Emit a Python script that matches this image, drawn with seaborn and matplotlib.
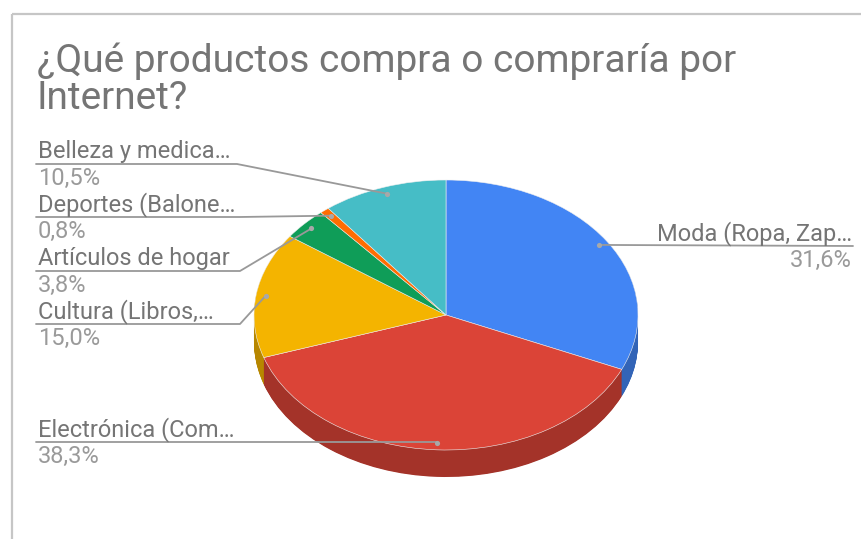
import numpy as np
import matplotlib
matplotlib.use("Agg")
import matplotlib.pyplot as plt
import seaborn as sns

# ---- data ----
categories = ["Moda (Ropa, Zap…", "Electrónica (Com…", "Cultura (Libros,…",
              "Artículos de hogar", "Deportes (Balone…", "Belleza y medica…"]
values = [31.6, 38.3, 15.0, 3.8, 0.8, 10.5]
top_colors = ["#4285F4", "#DB4437", "#F4B400", "#0F9D58", "#FF6D01", "#46BDC6"]
side_colors = ["#3264B7", "#A43329", "#B78700", "#0B7542", "#BF5201", "#348E94"]
title_lines = ["¿Qué productos compra o compraría por", "Internet?"]

# label layout (pixel positions)
label_side = ["right", "left", "left", "left", "left", "left"]
label_line_y = [246, 442, 324, 271, 217, 164]
label_elbow_x = [None, None, 240, 240, 240, 237]

sns.set_theme(style="white")
plt.rcParams["font.family"] = ["Roboto", "DejaVu Sans"]

W, H = 861, 539
fig = plt.figure(figsize=(W / 100, H / 100), dpi=100)
fig.patch.set_facecolor("white")

# pie axes: top face spans x 254..638, y 180..450 ; side depth to 477
px0, px1, py0, py1 = 254, 638, 180, 477
pa = fig.add_axes([px0 / W, 1 - py1 / H, (px1 - px0) / W, (py1 - py0) / H], zorder=1)
depth = 0.2
for t in np.linspace(depth, 0.004, 45):
    pa.pie(values, colors=side_colors, startangle=90, counterclock=False,
           center=(0, -t), radius=1, wedgeprops=dict(linewidth=0, antialiased=True))
wedges, _ = pa.pie(values, colors=top_colors, startangle=90, counterclock=False,
                   center=(0, 0), radius=1,
                   wedgeprops=dict(linewidth=0.4, edgecolor="#f0f0f0"))
pa.set_aspect("auto")
pa.set_xlim(-1, 1)
pa.set_ylim(-1 - depth, 1)
pa.axis("off")

# overlay axes in pixel coordinates
ov = fig.add_axes([0, 0, 1, 1], zorder=2)
ov.set_xlim(0, W)
ov.set_ylim(H, 0)
ov.axis("off")
ov.patch.set_alpha(0)

# card border (top and left)
ov.plot([11.5, W], [13.5, 13.5], color="#c6c6c6", lw=1.6, solid_capstyle="butt")
ov.plot([11.5, 11.5], [13.5, H], color="#c6c6c6", lw=1.6, solid_capstyle="butt")

# title
ov.text(37, 72, title_lines[0], fontsize=28, color="#757575", va="baseline", ha="left")
ov.text(37, 109, title_lines[1], fontsize=28, color="#757575", va="baseline", ha="left")

to_ov = pa.transData + ov.transData.inverted()
line_col = "#999999"
fs = 17
for w, cat, v, side, ly, ex in zip(wedges, categories, values, label_side,
                                    label_line_y, label_elbow_x):
    mid = np.deg2rad((w.theta1 + w.theta2) / 2)
    ax_, ay_ = to_ov.transform((0.95 * np.cos(mid), 0.95 * np.sin(mid)))
    pct = f"{v:.1f}%".replace(".", ",")
    if side == "right":
        ov.plot([ax_, 853], [ay_, ly], color=line_col, lw=1.3)
        ov.text(852, ly - 6, cat, fontsize=fs, color="#757575", ha="right", va="baseline")
        ov.text(852, ly + 3, pct, fontsize=fs, color="#9a9a9a", ha="right", va="top")
    else:
        exx = ax_ if ex is None else ex
        ov.plot([36, exx, ax_], [ly, ly, ay_], color=line_col, lw=1.3)
        ov.text(38, ly - 6, cat, fontsize=fs, color="#757575", ha="left", va="baseline")
        ov.text(38, ly + 3, pct, fontsize=fs, color="#9a9a9a", ha="left", va="top")
    ov.scatter([ax_], [ay_], s=14, color="#a8a8a8", zorder=5, linewidths=0)

fig.savefig("out.png", dpi=100, facecolor="white")
